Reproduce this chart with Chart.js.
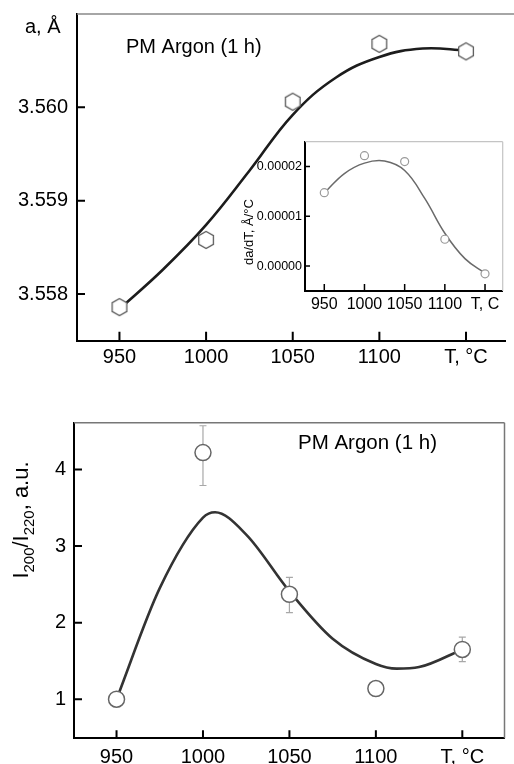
<!DOCTYPE html>
<html>
<head>
<meta charset="utf-8">
<script src="https://cdn.jsdelivr.net/npm/chart.js@4.4.0/dist/chart.umd.min.js"></script>
<style>
  html, body { margin: 0; padding: 0; background: #fff; }
  #wrap { position: relative; width: 514px; height: 764px; overflow: hidden; }
  #wrap canvas { position: absolute; }
</style>
</head>
<body>
<div id="wrap">
  <canvas id="top" width="514" height="380" style="left:0;top:0"></canvas>
  <canvas id="inset" width="280" height="190" style="left:230px;top:130px"></canvas>
  <canvas id="bottom" width="514" height="364" style="left:0;top:400px"></canvas>
</div>
<script>
// ---- data ----
const tempTicks = [950, 1000, 1050, 1100, 1150];
const tempLabels = ['950', '1000', '1050', '1100', 'T, °C'];
const insetTempLabels = ['950', '1000', '1050', '1100', 'T, C'];

// lattice parameter a (top chart)
const latticeT = [950, 1000, 1050, 1100, 1150];
const latticeA = [3.55786, 3.55858, 3.56006, 3.56068, 3.5606];
const latticeFitT = [950, 975, 1000, 1025, 1050, 1075, 1100, 1125, 1150];
const latticeFitA = [3.55784, 3.55826, 3.55874, 3.55932, 3.55992, 3.56032, 3.56054, 3.56063, 3.56061];
const latticeTicks = [3.558, 3.559, 3.560];

// inset da/dT
const derivT = [950, 1000, 1050, 1100, 1150];
const derivVal = [1.475e-5, 2.22e-5, 2.10e-5, 0.54e-5, -0.155e-5];
const derivFitT = [950, 975, 1000, 1025, 1050, 1075, 1100, 1125, 1150];
const derivFit = [1.47e-5, 1.86e-5, 2.07e-5, 2.11e-5, 1.92e-5, 1.36e-5, 0.66e-5, 0.15e-5, -0.14e-5];
const derivTicks = [0, 0.00001, 0.00002];

// intensity ratio I200/I220 (bottom chart)
const ratioT = [950, 1000, 1050, 1100, 1150];
const ratioVal = [1.0, 4.22, 2.37, 1.14, 1.65];
const ratioErrLo = [null, 3.79, 2.13, null, 1.49];
const ratioErrHi = [null, 4.57, 2.59, null, 1.81];
const ratioFitT = [950, 975, 1000, 1007, 1025, 1050, 1075, 1100, 1112, 1125, 1150];
const ratioFit = [1.0, 2.45, 3.37, 3.44, 3.15, 2.41, 1.79, 1.46, 1.40, 1.42, 1.65];
const ratioTicks = [1, 2, 3, 4];

Chart.defaults.font.family = '"Liberation Sans", Arial, sans-serif';
Chart.defaults.color = '#000';

function pts(xs, ys) {
  return xs.map(function (x, i) { return { x: x, y: ys[i] }; });
}

function hexagon(r, stroke, lw) {
  const c = document.createElement('canvas');
  const s = Math.ceil(2 * r + lw * 2 + 2);
  c.width = c.height = s;
  const g = c.getContext('2d');
  g.beginPath();
  for (let k = 0; k < 6; k++) {
    const a = -Math.PI / 2 + k * Math.PI / 3;
    const px = s / 2 + r * Math.cos(a), py = s / 2 + r * Math.sin(a);
    if (k) g.lineTo(px, py); else g.moveTo(px, py);
  }
  g.closePath();
  g.fillStyle = '#fff';
  g.fill();
  g.lineWidth = lw;
  g.strokeStyle = stroke;
  g.stroke();
  return c;
}

function xAxis(min, max, ticks, labels, size, pad, height) {
  return {
    type: 'linear', min: min, max: max,
    grid: { display: false, drawTicks: false },
    border: { display: true, color: '#000', width: 2 },
    afterBuildTicks: function (s) { s.ticks = ticks.map(function (v) { return { value: v }; }); },
    afterFit: function (s) { s.height = height; s.paddingLeft = 0; s.paddingRight = 0; },
    ticks: {
      font: { size: size }, padding: pad, maxRotation: 0, autoSkip: false,
      callback: function (v, i) { return labels[i]; }
    }
  };
}

function yAxis(min, max, ticks, fmt, size, pad, width) {
  return {
    type: 'linear', min: min, max: max,
    grid: { display: false, drawTicks: false },
    border: { display: true, color: '#000', width: 2 },
    afterBuildTicks: function (s) { s.ticks = ticks.map(function (v) { return { value: v }; }); },
    afterFit: function (s) { s.width = width; s.paddingTop = 0; s.paddingBottom = 0; },
    ticks: { font: { size: size }, padding: pad, callback: fmt }
  };
}

// frame lines, inward tick marks, free texts
const axisDecor = {
  id: 'axisDecor',
  afterDraw: function (chart, args, o) {
    const ctx = chart.ctx, a = chart.chartArea;
    const x = chart.scales.x, y = chart.scales.y;
    ctx.save();
    ctx.strokeStyle = o.frameColor;
    ctx.lineWidth = o.frameWidth;
    ctx.beginPath();
    ctx.moveTo(a.left, a.top);
    ctx.lineTo(o.topEnd || a.right, a.top);
    if (o.right) { ctx.moveTo(a.right, a.top); ctx.lineTo(a.right, a.bottom); }
    ctx.stroke();

    ctx.strokeStyle = '#000';
    ctx.lineWidth = o.tickWidth;
    ctx.beginPath();
    x.ticks.forEach(function (t) {
      const p = x.getPixelForValue(t.value);
      ctx.moveTo(p, a.bottom); ctx.lineTo(p, a.bottom - o.xTick);
    });
    y.ticks.forEach(function (t) {
      const p = y.getPixelForValue(t.value);
      ctx.moveTo(a.left, p); ctx.lineTo(a.left + o.yTick, p);
    });
    ctx.stroke();

    ctx.fillStyle = '#000';
    (o.texts || []).forEach(function (t) {
      ctx.save();
      ctx.translate(t.x, t.y);
      if (t.rotate) ctx.rotate(t.rotate);
      ctx.font = t.size + 'px "Liberation Sans", Arial, sans-serif';
      ctx.textAlign = t.align || 'left';
      ctx.textBaseline = 'alphabetic';
      if (t.parts) {
        let w = 0;
        t.parts.forEach(function (p) {
          ctx.font = (p.sub ? t.size * 0.68 : t.size) + 'px "Liberation Sans", Arial, sans-serif';
          w += ctx.measureText(p.t).width;
        });
        let cx = -w / 2;
        ctx.textAlign = 'left';
        t.parts.forEach(function (p) {
          ctx.font = (p.sub ? t.size * 0.68 : t.size) + 'px "Liberation Sans", Arial, sans-serif';
          ctx.fillText(p.t, cx, p.sub ? t.size * 0.28 : 0);
          cx += ctx.measureText(p.t).width;
        });
      } else {
        ctx.fillText(t.text, 0, 0);
      }
      ctx.restore();
    });
    ctx.restore();
  }
};

// error bars behind the markers
const errorBars = {
  id: 'errorBars',
  beforeDatasetsDraw: function (chart, args, o) {
    if (!o.lo) return;
    const ctx = chart.ctx, x = chart.scales.x, y = chart.scales.y;
    ctx.save();
    ctx.strokeStyle = o.color;
    ctx.lineWidth = o.width;
    ctx.beginPath();
    o.xs.forEach(function (t, i) {
      if (o.lo[i] == null) return;
      const px = x.getPixelForValue(t);
      const y1 = y.getPixelForValue(o.lo[i]), y2 = y.getPixelForValue(o.hi[i]);
      ctx.moveTo(px, y1); ctx.lineTo(px, y2);
      ctx.moveTo(px - o.cap, y1); ctx.lineTo(px + o.cap, y1);
      ctx.moveTo(px - o.cap, y2); ctx.lineTo(px + o.cap, y2);
    });
    ctx.stroke();
    ctx.restore();
  }
};

Chart.register(axisDecor, errorBars);

// ---- top chart: a(T) ----
new Chart(document.getElementById('top'), {
  type: 'line',
  data: {
    datasets: [
      {
        data: pts(latticeT, latticeA), showLine: false,
        pointStyle: hexagon(8.5, '#5a5a5a', 1.3), pointRadius: 8
      },
      {
        data: pts(latticeFitT, latticeFitA), borderColor: '#1c1c1c', borderWidth: 2.6,
        pointRadius: 0, tension: 0.4, fill: false
      }
    ]
  },
  options: {
    responsive: false, animation: false,
    layout: { padding: { top: 14, right: 2, left: 0, bottom: 0 } },
    scales: {
      x: xAxis(925.5, 1172.5, tempTicks, tempLabels, 20, 5, 39.3),
      y: yAxis(3.5575, 3.561, latticeTicks, function (v) { return v.toFixed(3); }, 20, 9, 77)
    },
    plugins: {
      legend: { display: false }, tooltip: { enabled: false },
      axisDecor: {
        frameColor: '#888', frameWidth: 1.5, topEnd: 514, right: false,
        tickWidth: 2, xTick: 9, yTick: 8,
        texts: [
          { text: 'a, Å', x: 25, y: 33, size: 20 },
          { text: 'PM Argon (1 h)', x: 126, y: 53, size: 20 }
        ]
      }
    }
  }
});

// ---- inset: da/dT ----
new Chart(document.getElementById('inset'), {
  type: 'line',
  data: {
    datasets: [
      {
        data: pts(derivT, derivVal), showLine: false, pointStyle: 'circle', pointRadius: 4,
        pointBorderColor: '#9a9a9a', pointBackgroundColor: '#fff', pointBorderWidth: 1.2
      },
      {
        data: pts(derivFitT, derivFit), borderColor: '#6a6a6a', borderWidth: 1.5,
        pointRadius: 0, tension: 0.4, fill: false
      }
    ]
  },
  options: {
    responsive: false, animation: false,
    layout: { padding: { top: 11.7, right: 7.3, left: 0, bottom: 0 } },
    scales: {
      x: xAxis(926, 1172, tempTicks, insetTempLabels, 16, 3.5, 29),
      y: yAxis(-0.000005, 0.000025, derivTicks, function (v) { return v.toFixed(5); }, 12.5, 3, 75)
    },
    plugins: {
      legend: { display: false }, tooltip: { enabled: false },
      axisDecor: {
        frameColor: '#c4c4c4', frameWidth: 1.2, right: true,
        tickWidth: 1.5, xTick: 7, yTick: 5,
        texts: [
          { text: 'da/dT, Å/°C', x: 23, y: 102, size: 13, align: 'center', rotate: -Math.PI / 2 }
        ]
      }
    }
  }
});

// ---- bottom chart: I200/I220 ----
new Chart(document.getElementById('bottom'), {
  type: 'line',
  data: {
    datasets: [
      {
        data: pts(ratioT, ratioVal), showLine: false, pointStyle: 'circle', pointRadius: 8,
        pointBorderColor: '#666', pointBackgroundColor: '#fff', pointBorderWidth: 1.5
      },
      {
        data: pts(ratioFitT, ratioFit), borderColor: '#333', borderWidth: 2.6,
        pointRadius: 0, cubicInterpolationMode: 'monotone', fill: false
      }
    ]
  },
  options: {
    responsive: false, animation: false,
    layout: { padding: { top: 22.7, right: 2, left: 0, bottom: 0 } },
    scales: {
      x: xAxis(925.4, 1174.4, tempTicks, tempLabels, 20, 7, 25.7),
      y: yAxis(0.49, 4.61, ratioTicks, function (v) { return String(v); }, 20, 8, 74)
    },
    plugins: {
      legend: { display: false }, tooltip: { enabled: false },
      errorBars: { xs: ratioT, lo: ratioErrLo, hi: ratioErrHi, color: '#a8a8a8', width: 1.2, cap: 3.5 },
      axisDecor: {
        frameColor: '#777', frameWidth: 1.5, right: true,
        tickWidth: 2, xTick: 8, yTick: 8,
        texts: [
          { text: 'PM Argon (1 h)', x: 298, y: 48.5, size: 20.5 },
          {
            x: 28, y: 120, size: 22, rotate: -Math.PI / 2,
            parts: [{ t: 'I' }, { t: '200', sub: true }, { t: '/I' }, { t: '220', sub: true }, { t: ', a.u.' }]
          }
        ]
      }
    }
  }
});
</script>
</body>
</html>
